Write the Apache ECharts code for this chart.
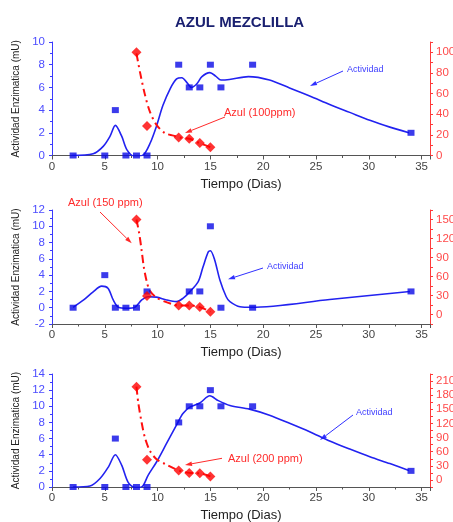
<!DOCTYPE html>
<html>
<head>
<meta charset="utf-8">
<title>Azul mezclilla</title>
<script src="https://cdn.jsdelivr.net/npm/echarts@6/dist/echarts.min.js"></script>
<style>
  html, body { margin: 0; padding: 0; background: #fff; }
  #myChart { width: 453px; height: 522px; }
</style>
</head>
<body>
<div id="myChart"></div>
<script>
// dias de muestreo
var dias = [2, 5, 6, 7, 8, 9, 12, 13, 14, 15, 16, 19, 34]
var dias150 = [2, 5, 6, 7, 8, 9, 13, 14, 15, 16, 19, 34]
var diasAzul = [8, 9, 12, 13, 14, 15]

// actividad enzimatica medida (mU)
var act100 = [0, 0, 4, 0, 0, 0, 8, 6, 6, 8, 6, 8, 2]
var act150 = [0, 4, 0, 0, 0, 2, 2, 2, 10, 0, 0, 2]
var act200 = [0, 0, 6, 0, 0, 0, 8, 10, 10, 12, 10, 10, 2]

// colorante azul (ppm)
var azul100 = [100, 28.7, 17.4, 16.2, 12, 8.1]
var azul150 = [150, 29.3, 14.4, 14.4, 11.7, 4.3]
var azul200 = [198, 43, 20, 15, 14, 7.5]

// curvas de ajuste [dia, valor]
var ajusteAct100 = [[1.9, 0], [3.9, 0.15], [4.85, 0.8], [5.5, 1.7], [6.0, 2.65], [6.6, 1.7], [7.1, 0.5], [7.85, -0.1], [8.65, 0.05], [9.3, 1.1], [9.9, 2.6], [10.5, 4.4], [11.2, 5.9], [11.8, 6.75], [12.3, 6.85], [12.8, 6.4], [13.2, 6.0], [13.7, 6.3], [14.2, 6.95], [14.95, 7.3], [15.5, 7.0], [16.0, 6.65], [16.8, 6.7], [18.6, 6.95], [20.6, 6.65], [22.5, 5.95], [24.4, 5.25], [26.3, 4.5], [28.2, 3.8], [30.1, 3.1], [32.0, 2.5], [33.8, 2.0]]
var ajusteAct150 = [[2.0, 0.05], [3.0, 0.95], [3.9, 1.95], [4.7, 2.65], [5.3, 2.4], [5.8, 0.95], [6.3, 0.05], [7.1, -0.07], [7.85, 0.05], [8.5, 0.95], [9.1, 1.35], [9.9, 1.3], [10.85, 0.95], [11.8, 0.75], [12.4, 1.15], [13.05, 1.95], [13.85, 3.2], [14.3, 5.0], [14.8, 6.85], [15.0, 7.0], [15.4, 5.9], [15.9, 3.4], [16.5, 1.35], [16.85, 0.75], [17.8, 0.12], [18.9, 0.05], [26.3, 1.0], [33.9, 2.0]]
var ajusteAct200 = [[2.0, 0], [3.6, 0.12], [4.55, 1.05], [5.35, 2.5], [6.0, 4.0], [6.6, 2.7], [7.2, 0.6], [7.85, -0.08], [8.5, 0], [9.1, 1.45], [9.9, 3.1], [10.85, 5.4], [11.8, 7.7], [12.4, 9.1], [13.05, 9.9], [14.0, 10.4], [14.95, 11.3], [15.75, 10.7], [16.85, 10.1], [18.7, 9.65], [20.6, 8.9], [22.5, 7.9], [24.4, 6.85], [26.3, 5.7], [28.2, 4.7], [30.1, 3.75], [32.0, 2.9], [33.8, 2.05]]
var ajusteAzul100 = [[8.0, 99], [8.33, 81], [8.8, 59], [9.27, 42.5], [9.9, 29.7], [10.7, 21.7], [11.5, 19.3], [12.1, 17.4], [13, 16.2], [14, 12], [15, 8.1]]
var ajusteAzul150 = [[8.0, 150], [8.26, 128], [8.49, 101], [8.7, 74.5], [8.96, 53], [9.27, 37.3], [9.9, 26.6], [10.7, 20.3], [11.5, 16], [12, 14.4], [13, 14.4], [14, 11.7], [15, 4.3]]
var ajusteAzul200 = [[8.0, 198], [8.17, 164], [8.49, 122], [8.8, 90], [9.27, 62], [9.9, 44], [10.7, 34], [11.5, 25], [12, 20], [13, 15], [14, 14], [15, 7.5]]

var FUENTE = 'Liberation Sans, Arial, sans-serif'
var AZUL = '#0a0ae6'
var ROJO = '#ff1010'

function puntos (xs, ys) {
  return xs.map(function (x, i) { return [x, ys[i]] })
}

// un panel por concentracion
var paneles = [
  {top: 42, height: 113.5, izq: [0, 10], der: [0, 110, 10, 20], dias: dias, act: act100, azul: azul100, ajAct: ajusteAct100, ajAzul: ajusteAzul100},
  {top: 210, height: 114, izq: [-2, 12], der: [-15, 165, 15, 30], dias: dias150, act: act150, azul: azul150, ajAct: ajusteAct150, ajAzul: ajusteAzul150},
  {top: 374, height: 113, izq: [0, 14], der: [-15, 225, 15, 30], dias: dias, act: act200, azul: azul200, ajAct: ajusteAct200, ajAzul: ajusteAzul200}
]

var grids = []
var xAxes = []
var yAxes = []
var series = []

paneles.forEach(function (p, i) {
  grids.push({left: 52, right: 23, top: p.top, height: p.height, outerBoundsMode: 'none'})
  xAxes.push({
    gridIndex: i,
    type: 'value',
    min: 0,
    max: 35.8,
    interval: 5,
    axisLine: {onZero: false, lineStyle: {color: '#555', width: 1}},
    axisTick: {length: 4, lineStyle: {color: '#555'}},
    minorTick: {show: true, splitNumber: 2, length: 2.5, lineStyle: {color: '#555'}},
    splitLine: {show: false},
    axisLabel: {color: '#444', fontSize: 11.5, margin: 5, showMaxLabel: false, fontFamily: FUENTE},
    name: 'Tiempo (Dias)',
    nameLocation: 'middle',
    nameGap: 22,
    nameTextStyle: {fontSize: 13, color: '#222', fontFamily: FUENTE}
  })
  yAxes.push({
    gridIndex: i,
    type: 'value',
    position: 'left',
    min: p.izq[0],
    max: p.izq[1],
    interval: 2,
    axisLine: {show: true, onZero: false, lineStyle: {color: '#3a3aff'}},
    axisTick: {show: true, length: 3, lineStyle: {color: '#3a3aff'}},
    minorTick: {show: true, splitNumber: 2, length: 2, lineStyle: {color: '#3a3aff'}},
    splitLine: {show: false},
    axisLabel: {color: '#4c4cff', fontSize: 11.5, margin: 7, fontFamily: FUENTE},
    name: 'Actividad Enzimatica (mU)',
    nameLocation: 'middle',
    nameGap: 30,
    nameTextStyle: {fontSize: 10, color: '#222', fontFamily: FUENTE}
  })
  yAxes.push({
    gridIndex: i,
    type: 'value',
    position: 'right',
    min: p.der[0],
    max: p.der[1],
    interval: p.der[2],
    axisLine: {show: true, onZero: false, lineStyle: {color: '#ff3a3a'}},
    axisTick: {show: true, length: 3, lineStyle: {color: '#ff3a3a'}},
    splitLine: {show: false},
    axisLabel: {
      color: '#ff4a4a',
      fontSize: 11.5,
      margin: 6,
      fontFamily: FUENTE,
      formatter: function (v) { return (v % p.der[3] === 0 && v >= 0) ? v : '' }
    }
  })
  series.push({
    type: 'line', xAxisIndex: i, yAxisIndex: 2 * i, data: p.ajAct, smooth: 0.3,
    showSymbol: false, silent: true, z: 2,
    lineStyle: {color: '#2222f0', width: 1.6}
  })
  series.push({
    type: 'line', xAxisIndex: i, yAxisIndex: 2 * i + 1, data: p.ajAzul, smooth: 0.3,
    showSymbol: false, silent: true, z: 2,
    lineStyle: {color: ROJO, width: 2, type: [8, 4, 2, 4]}
  })
  series.push({
    type: 'scatter', xAxisIndex: i, yAxisIndex: 2 * i, data: puntos(p.dias, p.act),
    symbol: 'rect', symbolSize: [7, 6], z: 3,
    itemStyle: {color: AZUL}
  })
  series.push({
    type: 'scatter', xAxisIndex: i, yAxisIndex: 2 * i + 1, data: puntos(diasAzul, p.azul),
    symbol: 'diamond', symbolSize: 10, z: 4,
    itemStyle: {color: '#ff0000'}
  })
})

// flechas y rotulos
function flecha (x1, y1, x2, y2, color) {
  var ang = Math.atan2(y2 - y1, x2 - x1)
  var L = 7
  var W = 2.2
  var bx = x2 - L * Math.cos(ang)
  var by = y2 - L * Math.sin(ang)
  var px = -Math.sin(ang) * W
  var py = Math.cos(ang) * W
  return [
    {type: 'line', shape: {x1: x1, y1: y1, x2: bx, y2: by}, style: {stroke: color, lineWidth: 1}},
    {type: 'polygon', shape: {points: [[x2, y2], [bx + px, by + py], [bx - px, by - py]]}, style: {fill: color}}
  ]
}

function rotulo (x, y, texto, color, size) {
  return {type: 'text', x: x, y: y, style: {text: texto, fill: color, fontSize: size, fontFamily: FUENTE, verticalAlign: 'middle'}}
}

var graficos = [].concat(
  rotulo(347, 70, 'Actividad', '#4040ff', 9), flecha(343, 71, 310, 86, '#3030ff'),
  rotulo(224, 113, 'Azul (100ppm)', '#ff2a2a', 11), flecha(225, 117, 185, 133, '#ff2a2a'),
  rotulo(68, 203, 'Azul (150 ppm)', '#ff2a2a', 11), flecha(100, 212, 131.7, 243.3, '#ff2a2a'),
  rotulo(267, 267, 'Actividad', '#4040ff', 9), flecha(263, 268, 228, 279.3, '#3030ff'),
  rotulo(356, 413, 'Actividad', '#4040ff', 9), flecha(353, 415, 320, 440, '#3030ff'),
  rotulo(228, 459, 'Azul (200 ppm)', '#ff2a2a', 11), flecha(222, 458.3, 185, 465, '#ff2a2a')
)

var myChart = echarts.init(document.getElementById('myChart'))
var option = {
  backgroundColor: '#fff',
  animation: false,
  title: {
    text: 'AZUL MEZCLILLA',
    left: 170,
    top: 10,
    textStyle: {fontSize: 15, fontWeight: 'bold', color: '#1a2070', fontFamily: FUENTE}
  },
  grid: grids,
  xAxis: xAxes,
  yAxis: yAxes,
  series: series,
  graphic: graficos
}
myChart.setOption(option)
</script>
</body>
</html>
